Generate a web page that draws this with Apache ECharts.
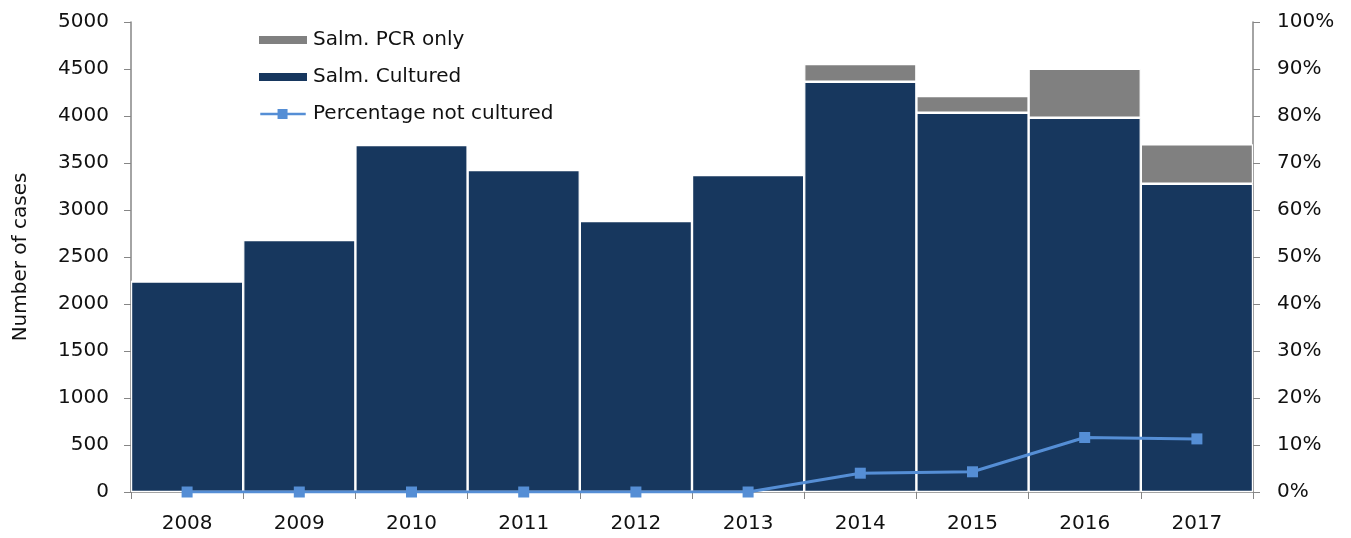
<!DOCTYPE html>
<html>
<head>
<meta charset="utf-8">
<script src="https://cdn.jsdelivr.net/npm/echarts@6/dist/echarts.min.js"></script>
<style>html,body{margin:0;padding:0;background:#fff}#c{width:1351px;height:538px}</style>
</head>
<body>
<div id="c"></div>
<script>
const years = ['2008','2009','2010','2011','2012','2013','2014','2015','2016','2017'];
const cultured = [2240, 2681, 3691, 3425, 2883, 3372, 4365, 4035, 3982, 3280];
const pcrOnly = [0, 0, 0, 0, 0, 0, 188, 178, 521, 419];
const pctNotCultured = [0, 0, 0, 0, 0, 0, 4.0, 4.3, 11.6, 11.3];

const FONT = 'DejaVu Sans';
const axisGray = '#868686';
const lineBlue = '#558ED5';
const chart = echarts.init(document.getElementById('c'), null, {renderer: 'canvas'});
chart.setOption({
  animation: false,
  textStyle: {fontFamily: FONT},
  grid: {left: 131, right: 98, top: 22, bottom: 46},
  legend: {
    orient: 'vertical', left: 252, top: 25,
    itemWidth: 50, itemHeight: 10, itemGap: 17,
    textStyle: {fontFamily: FONT, fontSize: 20, color: '#111'},
    data: [
      {name: 'Salm. PCR only', icon: 'rect'},
      {name: 'Salm. Cultured', icon: 'rect'},
      {name: 'Percentage not cultured',
       icon: 'path://M0,4 L19,4 L19,0 L30,0 L30,4 L50,4 L50,7 L30,7 L30,11 L19,11 L19,7 L0,7 Z'}
    ]
  },
  xAxis: {
    type: 'category', data: years, boundaryGap: true,
    axisLine: {lineStyle: {color: axisGray, width: 1.5}},
    axisTick: {show: true, length: 7, inside: false, lineStyle: {color: axisGray}},
    axisLabel: {color: '#111', fontSize: 20, fontFamily: FONT, margin: 22}
  },
  yAxis: [{
    type: 'value', min: 0, max: 5000, interval: 500,
    name: 'Number of cases', nameLocation: 'middle', nameGap: 100, nameRotate: 90,
    nameTextStyle: {fontSize: 20, color: '#111', fontFamily: FONT},
    axisLine: {show: true, lineStyle: {color: axisGray, width: 1.5}},
    axisTick: {show: true, length: 7, lineStyle: {color: axisGray}},
    splitLine: {show: false},
    axisLabel: {color: '#111', fontSize: 20, fontFamily: FONT, margin: 22,
      formatter: function (v) { return String(v); }}
  }, {
    type: 'value', min: 0, max: 100, interval: 10, position: 'right',
    axisLine: {show: true, lineStyle: {color: axisGray, width: 1.5}},
    axisTick: {show: true, length: 7, lineStyle: {color: axisGray}},
    splitLine: {show: false},
    axisLabel: {color: '#111', fontSize: 20, fontFamily: FONT, margin: 24, formatter: '{value}%'}
  }],
  series: [{
    name: 'Salm. Cultured', type: 'bar', stack: 'a', data: cultured,
    barCategoryGap: 0, barGap: 0,
    itemStyle: {color: '#17375E', borderColor: '#fff', borderWidth: 1.2}
  }, {
    name: 'Salm. PCR only', type: 'bar', stack: 'a', data: pcrOnly,
    barCategoryGap: 0, barGap: 0,
    itemStyle: {color: '#808080', borderColor: '#fff', borderWidth: 1.2}
  }, {
    name: 'Percentage not cultured', type: 'line', yAxisIndex: 1, data: pctNotCultured,
    symbol: 'rect', symbolSize: 11,
    lineStyle: {color: lineBlue, width: 3},
    itemStyle: {color: lineBlue},
    z: 5
  }]
});
</script>
</body>
</html>
